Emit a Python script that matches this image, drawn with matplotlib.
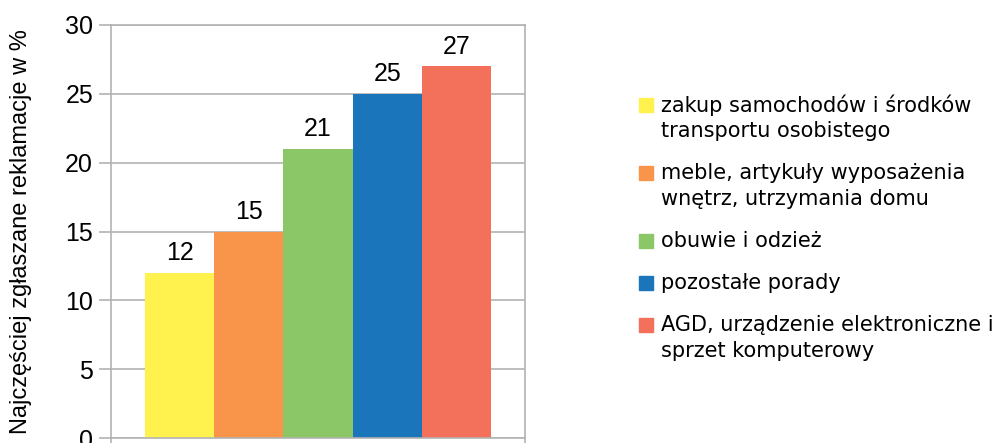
import matplotlib.pyplot as plt
from matplotlib.patches import Rectangle

labels = ["zakup samochodów i środków\ntransportu osobistego",
          "meble, artykuły wyposażenia\nwnętrz, utrzymania domu",
          "obuwie i odzież",
          "pozostałe porady",
          "AGD, urządzenie elektroniczne i\nsprzet komputerowy"]
values = [12, 15, 21, 25, 27]
colors = ["#fff24e", "#f8954a", "#8cc767", "#1b75bb", "#f3705b"]

W, H = 1007, 443
fig = plt.figure(figsize=(W / 100, H / 100), dpi=100)
ax = fig.add_axes([111 / W, 5 / H, 414 / W, 413 / H])

pos = [i - 2 for i in range(len(values))]
ax.bar(pos, values, width=1.0, color=colors, zorder=2)
for x, v in zip(pos, values):
    ax.annotate(str(v), (x, v), xytext=(0, 5.5), textcoords="offset points",
                ha="center", va="bottom", fontsize=18, family="Liberation Sans")

ax.set_xlim(-2.99, 2.99)
ax.set_ylim(0, 30)
ax.set_yticks(range(0, 31, 5))
ax.set_xticks([-2.99, 2.99])
ax.set_xticklabels([])
ax.grid(axis="y", color="#b3b3b3", linewidth=1.2, zorder=0)
for s in ax.spines.values():
    s.set_color("#b3b3b3")
    s.set_linewidth(1.2)
ax.tick_params(axis="y", length=8.6, width=1.2, color="#b3b3b3", labelsize=18, pad=4.3)
ax.tick_params(axis="x", length=8.6, width=1.2, color="#b3b3b3")
for t in ax.get_yticklabels():
    t.set_family("Liberation Sans")
ax.set_ylabel("Najczęściej zgłaszane reklamacje w %", fontsize=17,
              family="Liberation Sans")
ax.yaxis.set_label_coords(-0.19, 0.5)

# legend drawn by hand so the swatch sits on the first text line
y = 105
for lab, c in zip(labels, colors):
    fig.patches.append(Rectangle((639 / W, 1 - (y + 7) / H), 14 / W, 14 / H,
                                 transform=fig.transFigure, color=c))
    for k, line in enumerate(lab.split("\n")):
        fig.text(661 / W, 1 - (y + k * 26) / H, line, fontsize=15,
                 family="DejaVu Sans", va="center", ha="left")
    y += len(lab.split("\n")) * 26 + 16

fig.savefig("out.png", dpi=100)
